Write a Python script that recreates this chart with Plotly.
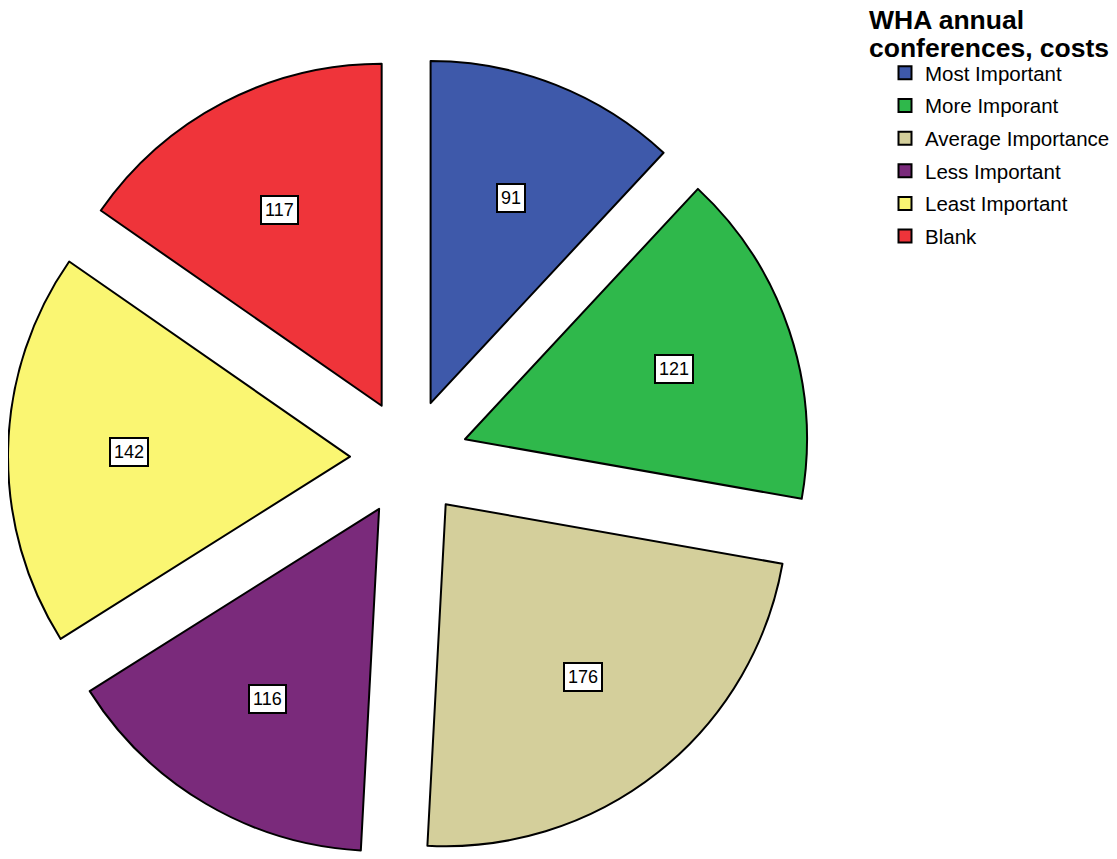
import math
import plotly.graph_objects as go

categories = ["Most Important", "More Imporant", "Average Importance",
              "Less Important", "Least Important", "Blank"]
values = [91, 121, 176, 116, 142, 117]
colors = ["#3E59AA", "#2FB84B", "#D4CF9B", "#7A2A7B", "#FAF672", "#EF343A"]
legend_title_lines = ["WHA annual", "conferences, costs"]

W, H = 1109, 851
PULL = 0.1725
dom_x = [0, 802 / W]
dom_y = [0, 802 / H]
FONT = "Arial, Liberation Sans, sans-serif"

fig = go.Figure()
fig.add_trace(go.Pie(
    labels=categories, values=values, sort=False, direction="clockwise",
    rotation=0, pull=[PULL] * len(values), textinfo="none", hoverinfo="skip",
    marker=dict(colors=colors, line=dict(color="black", width=2)),
    domain=dict(x=dom_x, y=dom_y), showlegend=False,
))

# legend entries
for name, col in zip(categories, colors):
    fig.add_trace(go.Scatter(
        x=[None], y=[None], mode="markers", name=name, legendgroup=name,
        marker=dict(symbol="square", size=13, color=col,
                    line=dict(color="black", width=2)),
    ))

# value labels, placed from the slice angles
box = min((dom_x[1] - dom_x[0]) * W, (dom_y[1] - dom_y[0]) * H)
R = box / (2 * (1 + PULL))
cx = (dom_x[0] + dom_x[1]) / 2 * W
cy = H * (1 - dom_y[0]) - box / 2
total = sum(values)
cum = 0
for v in values:
    mid = (cum + v / 2) / total * 2 * math.pi
    cum += v
    r = PULL * R + 0.645 * R
    px = cx + r * math.sin(mid)
    py = cy - r * math.cos(mid)
    fig.add_annotation(
        x=px / W, y=1 - py / H, xref="paper", yref="paper", text=str(v),
        xanchor="center", yanchor="middle",
        showarrow=False, font=dict(family=FONT, size=18, color="black"),
        bgcolor="white", bordercolor="black", borderwidth=2, borderpad=3,
    )

# legend title (two lines)
for i, line in enumerate(legend_title_lines):
    fig.add_annotation(
        x=860 / W, y=1 - (-4 + 28 * i) / H, xref="paper", yref="paper",
        text=f"<b>{line}</b>", showarrow=False, xanchor="left", yanchor="top",
        font=dict(family=FONT, size=26.5, color="black"),
        borderpad=0,
    )

fig.update_layout(
    width=W, height=H, margin=dict(l=0, r=0, t=0, b=0),
    paper_bgcolor="white", plot_bgcolor="white",
    xaxis=dict(visible=False), yaxis=dict(visible=False),
    legend=dict(
        font=dict(family=FONT, size=20.5, color="black"),
        x=877 / W, y=1 - 45 / H, xanchor="left", yanchor="top",
        tracegroupgap=3, bgcolor="rgba(0,0,0,0)",
    ),
)

fig.write_html("out.html")
